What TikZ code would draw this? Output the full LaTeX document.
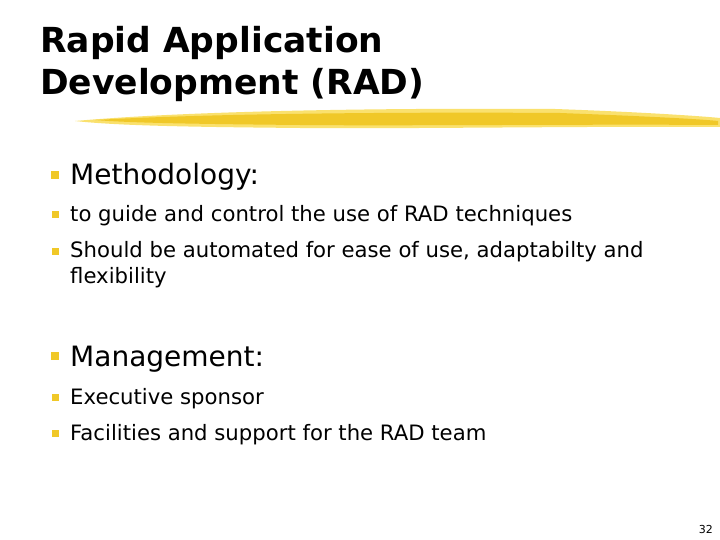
\documentclass[tikz,border=0pt]{standalone}
\usepackage{fontspec}
\setmainfont{DejaVu Sans}
\begin{document}
\begin{tikzpicture}[x=1pt,y=-1pt,
  title/.style={anchor=base west,inner sep=0,font=\fontsize{34.5}{40}\selectfont\bfseries},
  lvl1/.style={anchor=base west,inner sep=0,font=\fontsize{28}{32}\selectfont},
  lvl2/.style={anchor=base west,inner sep=0,font=\fontsize{21.2}{26}\selectfont,align=left},
  bul/.style={fill=brushgold,minimum size=#1,inner sep=0,anchor=center}]
\definecolor{brushgold}{RGB}{240,200,40}
\definecolor{brushlight}{RGB}{250,225,110}
\useasboundingbox (0,0) rectangle (720,540);
\fill[white] (0,0) rectangle (720,540);
\node[title] (t1) at (40,53) {Rapid Application};
\node[title] (t2) at (40,95) {Development (RAD)};
% brush stroke
\fill[brushlight] (75,121) .. controls (200,110) and (400,108) .. (555,109) .. controls (640,112) and (700,116) .. (720,118) -- (720,127) .. controls (600,126) and (400,129) .. (300,128) .. controls (200,127) and (120,126) .. (75,121) -- cycle;
\fill[brushgold] (95,120) .. controls (220,113) and (420,112) .. (560,113) .. controls (640,116) and (700,119) .. (718,121) -- (718,125) .. controls (600,124) and (400,126) .. (300,125) .. controls (200,124) and (130,123) .. (95,120) -- cycle;
\node[bul=8pt] (b1) at (55,175) {};
\node[lvl1] (m) at (70,185) {Methodology:};
\node[bul=7pt] (b2) at (55,215) {};
\node[lvl2] (m1) at (70,222) {to guide and control the use of RAD techniques};
\node[bul=7pt] (b3) at (55,251) {};
\node[lvl2] (m2) at (70,258) {Should be automated for ease of use, adaptabilty and};
\node[lvl2] (m3) at (70,283) {flexibility};
\node[bul=8pt] (b4) at (55,356) {};
\node[lvl1] (g) at (70,366) {Management:};
\node[bul=7pt] (b5) at (55,397) {};
\node[lvl2] (g1) at (70,404) {Executive sponsor};
\node[bul=7pt] (b6) at (55,433) {};
\node[lvl2] (g2) at (70,440) {Facilities and support for the RAD team};
\node[anchor=base east,inner sep=0,font=\fontsize{11}{12}\selectfont] (pg) at (713,533) {32};
\end{tikzpicture}
\end{document}
